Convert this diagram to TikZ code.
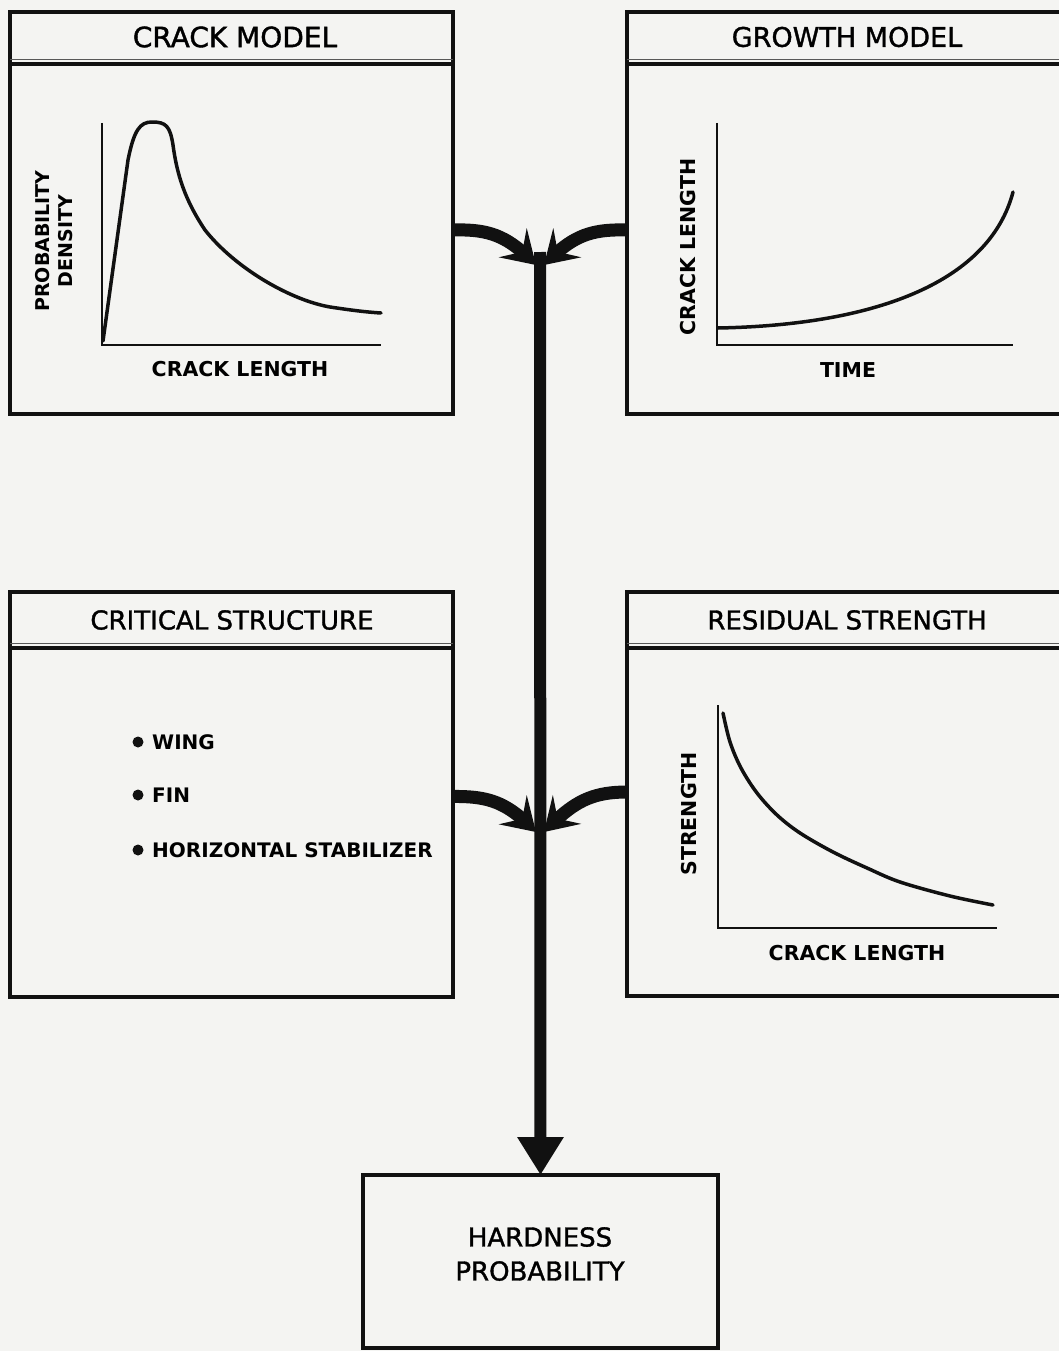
\documentclass[tikz,border=0pt]{standalone}
\usepackage{fontspec}
\setmainfont{DejaVu Sans}
\newfontfamily\medfont[FakeBold=1.3]{DejaVu Sans}
\usetikzlibrary{arrows.meta,bending}
\definecolor{ink}{HTML}{111111}
\definecolor{paper}{HTML}{F4F4F2}
\begin{document}
\begin{tikzpicture}[x=1pt,y=-1pt,
  panel/.style={draw=ink, line width=4pt, anchor=north west, inner sep=0pt, outer sep=0pt},
  divider/.style={draw=ink, line width=3.5pt},
  thinline/.style={draw=ink!70, line width=1pt},
  ttl/.style={inner sep=0pt, font=\medfont\fontsize{#1}{30}\selectfont},
  axis/.style={draw=ink, line width=1.8pt},
  curve/.style={draw=ink, line width=3.5pt, line cap=round, line join=round},
  lbl/.style={inner sep=0pt, font=\bfseries\fontsize{20.5}{23}\selectfont},
  bul/.style={inner sep=0pt, anchor=west, font=\bfseries\fontsize{20}{22}\selectfont},
  dot/.style={fill=ink, circle, inner sep=0pt, minimum size=11pt},
  conn/.style={draw=ink, line width=13pt, -{Stealth[length=32pt,width=40pt,inset=13pt,flex]}},
  trunk/.style={draw=ink, line width=12pt, -{Triangle[length=38pt,width=44pt]}},
]
\fill[paper] (0,0) rectangle (1059,1351);
\useasboundingbox (0,0) rectangle (1059,1351);

% panels
\node[panel, minimum width=443pt, minimum height=402pt] (crack) at (10,12) {};
\node[panel, minimum width=437pt, minimum height=402pt] (growth) at (627,12) {};
\node[panel, minimum width=443pt, minimum height=405pt] (crit) at (10,592) {};
\node[panel, minimum width=437pt, minimum height=404pt] (resid) at (627,592) {};
\node[panel, minimum width=355pt, minimum height=173pt] (hard) at (363,1175) {};

% dividers
\draw[divider] (10,64) -- (453,64);
\draw[thinline] (10,59.5) -- (453,59.5);
\draw[divider] (627,64) -- (1064,64);
\draw[thinline] (627,59.5) -- (1064,59.5);
\draw[divider] (10,648) -- (453,648);
\draw[thinline] (10,643.5) -- (453,643.5);
\draw[divider] (627,648) -- (1064,648);
\draw[thinline] (627,643.5) -- (1064,643.5);

% titles
\node[ttl=28] (t1) at (235,37) {CRACK MODEL};
\node[ttl=27] (t2) at (847,37) {GROWTH MODEL};
\node[ttl=26] (t3) at (232,620) {CRITICAL STRUCTURE};
\node[ttl=26] (t4) at (847,620) {RESIDUAL STRENGTH};

% crack model plot
\draw[axis] (102,123) -- (102,345) -- (381,345);
\draw[curve] (103,341) -- (128,160) .. controls (134,130) and (140,122) .. (152,122)
  .. controls (166,122) and (170,126) .. (173,145)
  .. controls (177,175) and (185,200) .. (205,230)
  .. controls (235,268) and (290,300) .. (330,307)
  .. controls (350,310) and (365,312) .. (381,313);
\node[lbl, rotate=90, align=center, font=\bfseries\fontsize{19}{23}\selectfont] (yl1) at (54,241) {PROBABILITY\\DENSITY};
\node[lbl] (xl1) at (240,369) {CRACK LENGTH};

% growth model plot
\draw[axis] (717,123) -- (717,345) -- (1013,345);
\draw[curve] (718,328) .. controls (880,325) and (990,280) .. (1013,192);
\node[lbl, rotate=90] (yl2) at (688,247) {CRACK LENGTH};
\node[lbl] (xl2) at (848,370) {TIME};

% residual strength plot
\draw[axis] (718,705) -- (718,928) -- (997,928);
\draw[curve] plot[smooth, tension=0.55] coordinates {(723,713) (730,742) (741,768) (757,793) (777,815) (800,833) (833,852) (867,868) (900,882) (950,896) (993,905)};
\node[lbl, rotate=90] (yl3) at (689,814) {STRENGTH};
\node[lbl] (xl3) at (857,953) {CRACK LENGTH};

% critical structure list
\node[dot] (d1) at (138,742) {};
\node[dot] (d2) at (138,795) {};
\node[dot] (d3) at (138,850) {};
\node[bul] (b1) at (152,742) {WING};
\node[bul] (b2) at (152,795) {FIN};
\node[bul] (b3) at (152,850) {HORIZONTAL STABILIZER};

% hardness text
\node[inner sep=0pt, align=center, font=\medfont\fontsize{26}{34}\selectfont] (hp) at (540,1254) {HARDNESS\\PROBABILITY};

% junctions
\coordinate (j1l) at (536,265);
\coordinate (j1r) at (544,265);
\coordinate (j1) at (540,252);
\coordinate (j2l) at (536,832);
\coordinate (j2r) at (544,832);

% connectors
\draw[conn] ([yshift=-17pt]crack.east) .. controls (490,229) and (508,236) .. (j1l);
\draw[conn] ([yshift=-17pt]growth.west) .. controls (590,229) and (572,236) .. (j1r);
\draw[conn] ([yshift=-2pt]crit.east) .. controls (490,796) and (508,803) .. (j2l);
\draw[conn] ([yshift=2pt]resid.west) .. controls (590,792) and (572,803) .. (j2r);
\draw[trunk] (j1) -- (hard.north);
\end{tikzpicture}
\end{document}
